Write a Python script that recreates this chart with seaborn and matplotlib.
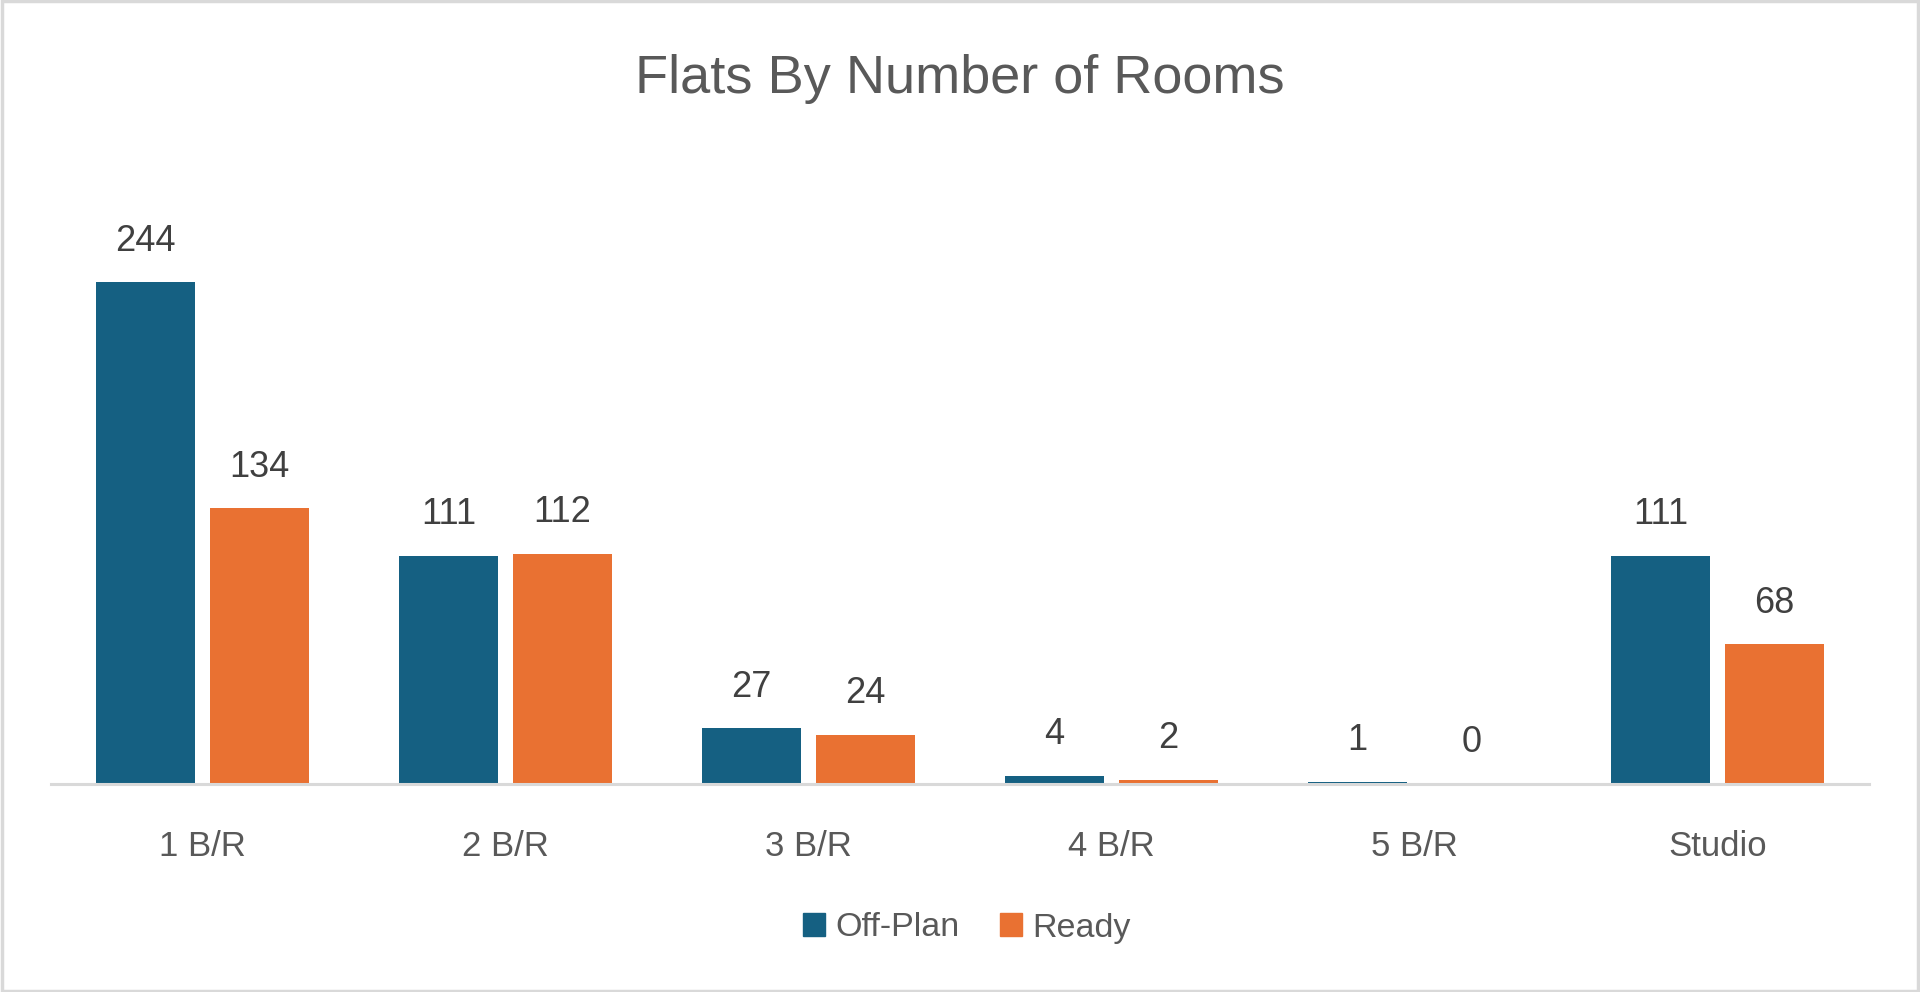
import matplotlib
matplotlib.use("Agg")
import matplotlib.pyplot as plt
import matplotlib.patches as mpatches
import seaborn as sns
import pandas as pd

categories = ["1 B/R", "2 B/R", "3 B/R", "4 B/R", "5 B/R", "Studio"]
series_names = ["Off-Plan", "Ready"]
off_plan = [244, 111, 27, 4, 1, 111]
ready = [134, 112, 24, 2, 0, 68]
title_text = "Flats By Number of Rooms"

colors = {"Off-Plan": "#156082", "Ready": "#E97132"}

df = pd.DataFrame({
    "Rooms": categories * 2,
    "Status": [series_names[0]] * len(categories) + [series_names[1]] * len(categories),
    "Count": off_plan + ready,
})

sns.set_theme(style="white")
plt.rcParams["font.family"] = ["Liberation Sans", "DejaVu Sans"]

fig = plt.figure(figsize=(19.2, 9.92), dpi=100)
ax = fig.add_axes([51 / 1920, 1 - 784 / 992, (1869 - 51) / 1920, (784 - 167) / 992])

sns.barplot(data=df, x="Rooms", y="Count", hue="Status", order=categories,
            hue_order=series_names, palette=colors, width=0.754, gap=0.133,
            ax=ax, legend=False, saturation=1, linewidth=0)

ax.set_ylim(0, 300)
ax.set_xlim(-0.5, len(categories) - 0.5)
ax.set_xlabel("")
ax.set_ylabel("")
ax.set_yticks([])
for s in ["top", "left", "right"]:
    ax.spines[s].set_visible(False)
ax.spines["bottom"].set_color("#D9D9D9")
ax.spines["bottom"].set_linewidth(2.2)
ax.tick_params(axis="x", length=0, pad=33, labelsize=25, labelcolor="#595959")

for cont in ax.containers:
    ax.bar_label(cont, labels=[f"{int(v)}" for v in cont.datavalues], padding=17,
                 fontsize=26, color="#404040")

fig.text(960 / 1920, 1 - 79 / 992, title_text, ha="center", va="center",
         fontsize=39, color="#595959",
         family=["Liberation Sans Narrow", "Liberation Sans", "DejaVu Sans"])

handles = [mpatches.Patch(color=colors[n], label=n) for n in series_names]
fig.legend(handles=handles, loc="center", bbox_to_anchor=(967 / 1920, 1 - 928 / 992),
           ncol=2, frameon=False, fontsize=24.5, handlelength=0.65, handleheight=0.65,
           handletextpad=0.3, columnspacing=1.2, labelcolor="#595959")

border = mpatches.Rectangle((0.0008, 0.0015), 0.9984, 0.997, transform=fig.transFigure,
                            fill=False, edgecolor="#D9D9D9", linewidth=2.5)
fig.patches.append(border)

fig.savefig("out.png", dpi=100, facecolor="white")
